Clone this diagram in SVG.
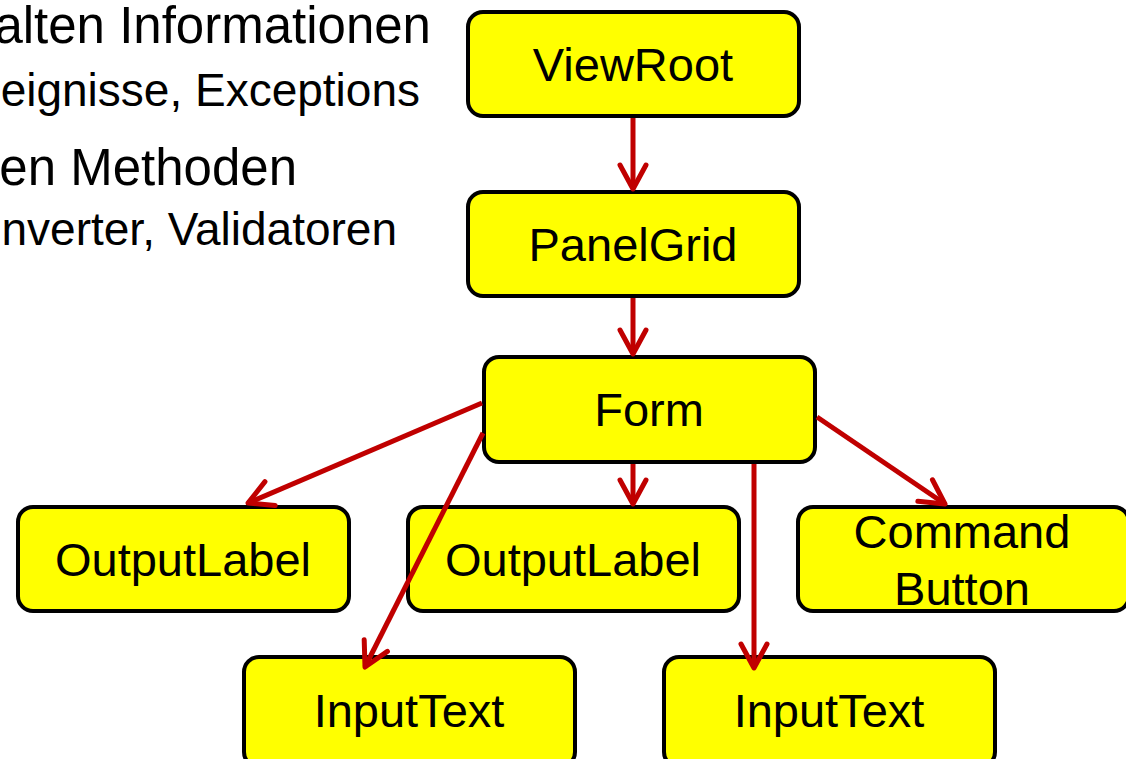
<svg xmlns="http://www.w3.org/2000/svg" width="1126" height="759" viewBox="0 0 1126 759">
  <style>
    .box { fill: #FFFF00; stroke: #000; stroke-width: 4; }
    .lbl { font-family: "Liberation Sans", Arial, sans-serif; font-size: 47px; fill: #000; text-anchor: middle; }
    .big { font-family: "Liberation Sans", Arial, sans-serif; font-size: 51px; fill: #000; text-anchor: end; }
    .small { font-family: "Liberation Sans", Arial, sans-serif; font-size: 46px; fill: #000; text-anchor: end; }
    .edge { stroke: #C00000; stroke-width: 5; fill: none; marker-end: url(#arrow); }
  </style>
  <defs>
    <marker id="arrow" markerUnits="userSpaceOnUse" markerWidth="40" markerHeight="40" viewBox="-30 -20 40 40" refX="0" refY="0" orient="auto">
      <path d="M-24,-13 L0,0 L-24,13" fill="none" stroke="#C00000" stroke-width="5" stroke-linecap="round" stroke-linejoin="round"/>
    </marker>
  </defs>

  <!-- bullet text at the left -->
  <g id="bullets">
    <text class="big" x="431" y="43">alten Informationen</text>
    <text class="small" x="420" y="106">eignisse, Exceptions</text>
    <text class="big" x="297" y="185">en Methoden</text>
    <text class="small" x="397" y="245">nverter, Validatoren</text>
  </g>

  <g id="viewroot">
    <rect class="box" x="468" y="12" width="331" height="104" rx="15"/>
    <text class="lbl" x="633" y="81">ViewRoot</text>
  </g>
  <g id="panelgrid">
    <rect class="box" x="468" y="192" width="331" height="104" rx="15"/>
    <text class="lbl" x="633" y="261">PanelGrid</text>
  </g>
  <g id="form">
    <rect class="box" x="484" y="357" width="331" height="105" rx="15"/>
    <text class="lbl" x="649" y="426">Form</text>
  </g>
  <g id="outputlabel1">
    <rect class="box" x="18" y="507" width="331" height="104" rx="15"/>
    <text class="lbl" x="183" y="576">OutputLabel</text>
  </g>
  <g id="outputlabel2">
    <rect class="box" x="408" y="507" width="331" height="104" rx="15"/>
    <text class="lbl" x="573" y="576">OutputLabel</text>
  </g>
  <g id="commandbutton">
    <rect class="box" x="798" y="507" width="331" height="104" rx="15"/>
    <text class="lbl" x="962" y="548">Command</text>
    <text class="lbl" x="962" y="605">Button</text>
  </g>
  <g id="inputtext1">
    <rect class="box" x="244" y="657" width="331" height="110" rx="15"/>
    <text class="lbl" x="409" y="727">InputText</text>
  </g>
  <g id="inputtext2">
    <rect class="box" x="664" y="657" width="331" height="110" rx="15"/>
    <text class="lbl" x="829" y="727">InputText</text>
  </g>

  <!-- connectors, drawn over the boxes -->
  <g id="connectors">
    <line class="edge" x1="633" y1="118" x2="633" y2="189"/>
    <line class="edge" x1="633" y1="298" x2="633" y2="354"/>
    <line class="edge" x1="633" y1="464" x2="633" y2="504"/>
    <line class="edge" x1="482" y1="403" x2="248" y2="503"/>
    <line class="edge" x1="483" y1="433" x2="365" y2="667"/>
    <line class="edge" x1="754" y1="464" x2="754" y2="668"/>
    <line class="edge" x1="817" y1="417" x2="945" y2="504"/>
  </g>
</svg>
